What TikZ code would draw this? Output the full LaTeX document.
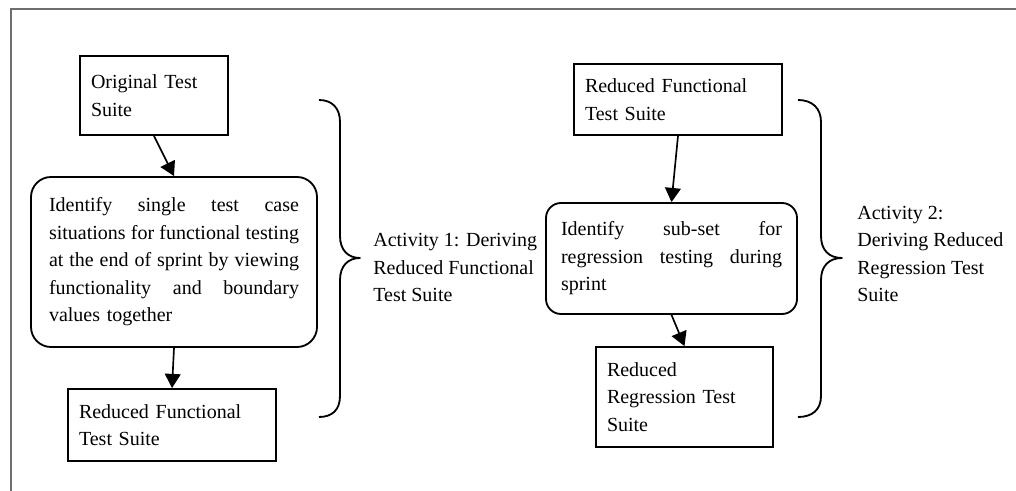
\documentclass[tikz,border=0pt]{standalone}
\usepackage{fontspec}
\setmainfont{Liberation Serif}
\usepackage{tikz}
\usetikzlibrary{arrows.meta}
\setlength{\parindent}{0pt}
\newcommand{\fullline}[2]{\leavevmode\hbox to #1{\spaceskip=0.25em plus 1fil\relax #2}}

\begin{document}
\begin{tikzpicture}[x=0.6pt, y=-0.6pt, font=\fontsize{12pt}{16.5pt}\selectfont,
    box/.style={draw=black, line width=1.1pt, inner xsep=6.6pt, inner ysep=0pt, align=left},
    roundbox/.style={box, rounded corners=12pt},
    flow/.style={-{Triangle[length=8.5pt,width=9.5pt]}, line width=1pt},
    curly/.style={line width=1.1pt, line join=round}]
    \useasboundingbox (0,0) rectangle (1016,491);
    \draw[black!57, line width=1.2pt] (11,491) -- (11,9) -- (1016,9);

    \node[box, text width=75.6pt, minimum height=47.4pt] (orig) at (154,95.5) {Original Test\\Suite};
    \node[roundbox, inner xsep=10.8pt, text width=150pt, minimum height=102pt] (ident1) at (174,262)
        {\fullline{150pt}{Identify single test case}\\
         \fullline{150pt}{situations for functional testing}\\
         \fullline{150pt}{at the end of sprint by viewing}\\
         \fullline{150pt}{functionality and boundary}\\
         values together};
    \node[box, text width=111.6pt, minimum height=43.2pt] (redfun1) at (172,425) {Reduced Functional\\Test Suite};

    \node[box, text width=111.6pt, minimum height=42.6pt] (redfun2) at (678,99.5) {Reduced Functional\\Test Suite};
    \node[roundbox, rounded corners=9pt, inner xsep=9pt, text width=132.6pt, minimum height=66.6pt] (ident2) at (671.5,258.5)
        {\fullline{132.6pt}{Identify sub-set for}\\
         \fullline{132.6pt}{regression testing during}\\
         sprint};
    \node[box, text width=93pt, minimum height=60pt] (redreg) at (684.5,397) {Reduced\\Regression Test\\Suite};

    \node[anchor=west, align=left, inner sep=0pt] (act1) at (373,267.5) {Activity 1: Deriving\\Reduced Functional\\Test Suite};
    \node[anchor=west, align=left, inner sep=0pt] (act2) at (857,254) {Activity 2:\\Deriving Reduced\\Regression Test\\Suite};

    \path[flow]
    (orig.south) edge (ident1.north)
    (ident1.south) edge (redfun1.north)
    (redfun2.south) edge (ident2.north)
    (ident2.south) edge (redreg.north);

    \draw[curly] (319,100) .. controls (332,100) and (340,108) .. (340,122) -- (340,236)
        .. controls (340,250) and (348,258) .. (360,258) .. controls (348,258) and (340,266) .. (340,280)
        -- (340,396) .. controls (340,410) and (332,417) .. (319,417);
    \draw[curly] (798,100) .. controls (812,100) and (821,108) .. (821,122) -- (821,236)
        .. controls (821,250) and (829,258) .. (842,258) .. controls (829,258) and (821,266) .. (821,280)
        -- (821,396) .. controls (821,410) and (812,417) .. (798,417);
\end{tikzpicture}
\end{document}
